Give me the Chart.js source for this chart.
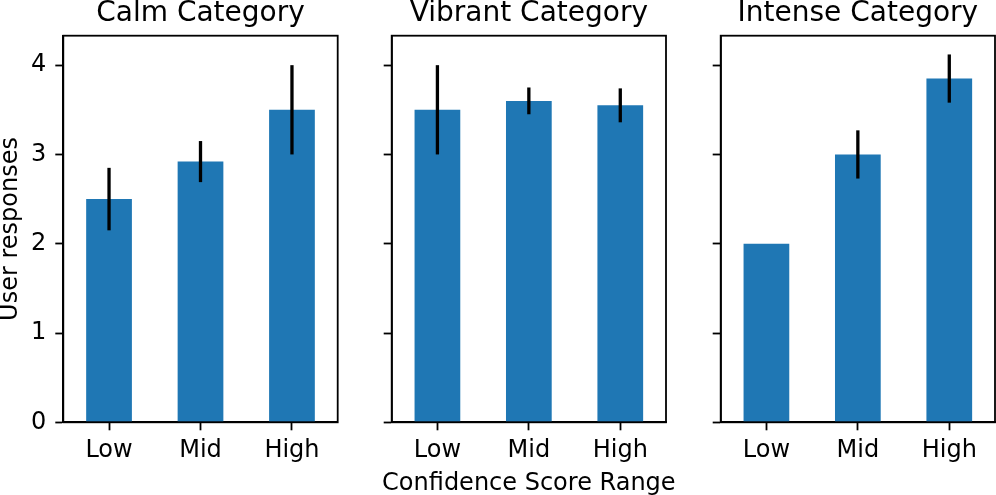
<!DOCTYPE html>
<html><head><meta charset="utf-8">
<script src="https://cdn.jsdelivr.net/npm/chart.js@4.4.0/dist/chart.umd.min.js"></script>
<style>
html,body{margin:0;padding:0;background:#fff;}
#wrap{position:relative;width:996px;height:495px;overflow:hidden;background:#fff;}
canvas{position:absolute;top:0;}
</style></head><body>
<div id="wrap">
<canvas id="c1" width="340" height="495" style="left:0px"></canvas>
<canvas id="c2" width="340" height="495" style="left:340px"></canvas>
<canvas id="c3" width="316" height="495" style="left:680px"></canvas>
</div>
<script>
const categories = ['Low', 'Mid', 'High'];
const panelTitles = ['Calm Category', 'Vibrant Category', 'Intense Category'];
const calmValues = [2.5, 2.92, 3.5];
const calmErrors = [0.35, 0.23, 0.5];
const vibrantValues = [3.5, 3.6, 3.55];
const vibrantErrors = [0.5, 0.15, 0.19];
const intenseValues = [2.0, 3.0, 3.85];
const intenseErrors = [0, 0.27, 0.27];
const yTicks = [0, 1, 2, 3, 4];
const yMax = 4.33;
const xTitle = 'Confidence Score Range';
const yTitle = 'User responses';

const FONT = 'DejaVu Sans';
const BAR = '#1f77b4';

const panelPlugin = {
  id: 'panel',
  afterDatasetsDraw(chart, args, opts) {
    const {ctx, scales} = chart;
    const ds = chart.data.datasets[0];
    ctx.save();
    ctx.strokeStyle = '#000';
    ctx.lineWidth = 3.3;
    ctx.lineCap = 'butt';
    ds.data.forEach((v, i) => {
      const e = opts.errors[i];
      if (!e) return;
      const x = scales.x.getPixelForValue(i);
      ctx.beginPath();
      ctx.moveTo(x, scales.y.getPixelForValue(v - e));
      ctx.lineTo(x, scales.y.getPixelForValue(v + e));
      ctx.stroke();
    });
    ctx.restore();
  },
  afterDraw(chart, args, opts) {
    const {ctx, chartArea: a} = chart;
    ctx.save();
    ctx.strokeStyle = '#000';
    ctx.lineWidth = 1.8;
    ctx.strokeRect(a.left, a.top, a.right - a.left, a.bottom - a.top);
    ctx.fillStyle = '#000';
    ctx.font = '28px "' + FONT + '"';
    ctx.textAlign = 'center';
    ctx.textBaseline = 'alphabetic';
    ctx.fillText(opts.title, (a.left + a.right) / 2, a.top - 15);
    if (opts.xTitle) {
      ctx.font = '24px "' + FONT + '"';
      ctx.fillText(opts.xTitle, (a.left + a.right) / 2, 490);
    }
    ctx.restore();
  }
};

function makeChart(id, idx, values, errors, axisW, rightPad) {
  const tickFont = {family: FONT, size: 24};
  return new Chart(document.getElementById(id), {
    type: 'bar',
    data: {
      labels: categories,
      datasets: [{
        data: values,
        backgroundColor: BAR,
        borderWidth: 0,
        categoryPercentage: 1.0,
        barPercentage: 0.5
      }]
    },
    options: {
      responsive: false,
      animation: false,
      devicePixelRatio: 1,
      layout: {padding: {top: 35.7, right: rightPad, left: 0, bottom: 0}},
      plugins: {
        legend: {display: false},
        tooltip: {enabled: false},
        title: {display: false},
        panel: {errors: errors, title: panelTitles[idx], xTitle: idx === 1 ? xTitle : null}
      },
      scales: {
        x: {
          grid: {offset: false, drawOnChartArea: false, drawTicks: true, tickLength: 8, tickWidth: 1.8, tickColor: '#000', color: '#000'},
          border: {display: true, color: '#000', width: 1.8},
          ticks: {color: '#000', font: tickFont, padding: 6.5, maxRotation: 0, autoSkip: false},
          title: {display: false},
          afterFit(s) { s.height = 72.7; }
        },
        y: {
          min: 0,
          max: yMax,
          afterBuildTicks(s) { s.ticks = yTicks.map(v => ({value: v})); },
          grid: {drawOnChartArea: false, drawTicks: true, tickLength: 8, tickWidth: 1.8, tickColor: '#000', color: '#000'},
          border: {display: true, color: '#000', width: 1.8},
          ticks: {color: '#000', font: tickFont, padding: 9, callback: (v) => idx === 0 ? String(v) : ''},
          title: {display: idx === 0, text: yTitle, color: '#000', font: {family: FONT, size: 24, lineHeight: 0.85}, padding: 0.5},
          afterFit(s) { s.width = axisW; }
        }
      }
    },
    plugins: [panelPlugin]
  });
}

makeChart('c1', 0, calmValues, calmErrors, 63.3, 2.3);
makeChart('c2', 1, vibrantValues, vibrantErrors, 51.7, 14);
makeChart('c3', 2, intenseValues, intenseErrors, 40.7, 1);
</script>
</body></html>
